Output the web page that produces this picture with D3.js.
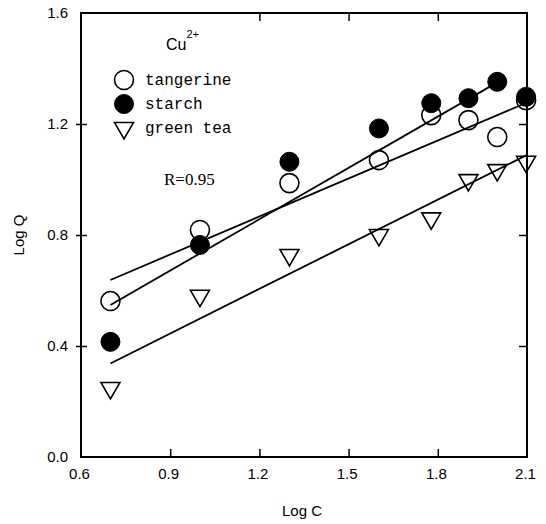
<!DOCTYPE html>
<html>
<head>
<meta charset="utf-8">
<script src="https://cdn.jsdelivr.net/npm/d3@7"></script>
<style>
  html, body { margin: 0; padding: 0; background: #fff; }
  svg { display: block; }
</style>
</head>
<body>
<svg id="chart" width="546" height="524"></svg>
<script>
// ---- data ----
const logC = [0.699, 1.0, 1.301, 1.602, 1.778, 1.903, 2.0, 2.097];
const tangerine = [0.562, 0.818, 0.987, 1.070, 1.232, 1.214, 1.153, 1.286];
const starch    = [0.415, 0.764, 1.064, 1.184, 1.275, 1.293, 1.352, 1.298];
const greenTea  = [0.249, 0.581, 0.728, 0.800, 0.860, 0.998, 1.034, 1.064];

// fitted line endpoints [x, y]
const fitTangerine = [[0.699, 0.638], [2.097, 1.276]];
const fitStarch    = [[0.699, 0.548], [2.0, 1.350]];
const fitGreenTea  = [[0.699, 0.337], [2.097, 1.087]];

const xTicks = [0.6, 0.9, 1.2, 1.5, 1.8, 2.1];
const yTicks = [0.0, 0.4, 0.8, 1.2, 1.6];
const topTicks = [1.2, 1.5, 1.8];
const rightTicks = [0.4, 0.8, 1.2];

const legendLabels = ["tangerine", "starch", "green tea"];
const legendMarkers = ["open", "filled", "triangle"];

// ---- layout ----
const svg = d3.select("#chart");
const X0 = 81, X1 = 527, Y0 = 457, Y1 = 13;
const x = d3.scaleLinear().domain([0.6, 2.1]).range([X0, X1]);
const y = d3.scaleLinear().domain([0, 1.6]).range([Y0, Y1]);

const sansFont = "'Liberation Sans', Arial, sans-serif";
const monoFont = "'Liberation Mono', 'DejaVu Sans Mono', monospace";
const serifFont = "'Liberation Serif', 'Times New Roman', serif";

// frame
svg.append("rect")
  .attr("x", X0).attr("y", Y1)
  .attr("width", X1 - X0).attr("height", Y0 - Y1)
  .attr("fill", "none").attr("stroke", "#000").attr("stroke-width", 2);

// bottom axis (ticks inside)
const bottomAxis = d3.axisBottom(x).tickValues(xTicks).tickSize(-8).tickPadding(14)
  .tickFormat(d3.format(".1f"));
const gb = svg.append("g").attr("transform", `translate(0,${Y0})`).call(bottomAxis);
gb.select(".domain").remove();
gb.selectAll(".tick line").attr("stroke", "#000").attr("stroke-width", 1.5)
  .filter(d => d === 0.6 || d === 2.1).remove();
gb.selectAll(".tick text").attr("font-family", sansFont).attr("font-size", 15)
  .attr("fill", "#000").attr("dy", "0.5em").attr("dx", -2);

// left axis (ticks crossing)
const leftAxis = d3.axisLeft(y).tickValues(yTicks).tickSize(5).tickPadding(8)
  .tickFormat(d3.format(".1f"));
const gl = svg.append("g").attr("transform", `translate(${X0},0)`).call(leftAxis);
gl.select(".domain").remove();
gl.selectAll(".tick line").attr("x2", -5).attr("x1", 6)
  .attr("stroke", "#000").attr("stroke-width", 1.5)
  .filter(d => d === 0 || d === 1.6).remove();
gl.selectAll(".tick text").attr("font-family", sansFont).attr("font-size", 15).attr("fill", "#000");

// top ticks
const gt = svg.append("g").attr("transform", `translate(0,${Y1})`)
  .call(d3.axisTop(x).tickValues(topTicks).tickSize(-8).tickFormat(""));
gt.select(".domain").remove();
gt.selectAll(".tick line").attr("stroke", "#000").attr("stroke-width", 1.5);

// right ticks
const gr = svg.append("g").attr("transform", `translate(${X1},0)`)
  .call(d3.axisRight(y).tickValues(rightTicks).tickSize(-8).tickFormat(""));
gr.select(".domain").remove();
gr.selectAll(".tick line").attr("stroke", "#000").attr("stroke-width", 1.5);

// axis titles
svg.append("text").attr("x", 302).attr("y", 516)
  .attr("text-anchor", "middle").attr("font-family", sansFont).attr("font-size", 15)
  .text("Log C");
svg.append("text").attr("transform", `translate(24,${(Y0 + Y1) / 2}) rotate(-90)`)
  .attr("text-anchor", "middle").attr("font-family", sansFont).attr("font-size", 15)
  .text("Log Q");

// fit lines
const line = d3.line().x(d => x(d[0])).y(d => y(d[1]));
[fitTangerine, fitStarch, fitGreenTea].forEach(f => {
  svg.append("path").attr("d", line(f)).attr("fill", "none")
    .attr("stroke", "#000").attr("stroke-width", 1.8);
});

// markers
const R = 9.5;
const triPath = d3.symbol().type(d3.symbolTriangle).size(155);
function drawMarker(g, type, cx, cy) {
  if (type === "open") {
    g.append("circle").attr("cx", cx).attr("cy", cy).attr("r", R)
      .attr("fill", "none").attr("stroke", "#000").attr("stroke-width", 1.6);
  } else if (type === "filled") {
    g.append("circle").attr("cx", cx).attr("cy", cy).attr("r", R)
      .attr("fill", "#000").attr("stroke", "#000").attr("stroke-width", 1);
  } else {
    g.append("path").attr("d", triPath())
      .attr("transform", `translate(${cx},${cy}) rotate(180)`)
      .attr("fill", "none").attr("stroke", "#000").attr("stroke-width", 1.6);
  }
}
const gp = svg.append("g");
logC.forEach((c, i) => drawMarker(gp, "open", x(c), y(tangerine[i])));
logC.forEach((c, i) => drawMarker(gp, "filled", x(c), y(starch[i])));
logC.forEach((c, i) => drawMarker(gp, "triangle", x(c), y(greenTea[i])));

// title Cu2+
const cu = svg.append("text").attr("x", 166).attr("y", 50)
  .attr("font-family", sansFont).attr("font-size", 16);
cu.append("tspan").text("Cu");
cu.append("tspan").attr("dy", -12).attr("font-size", 11).text("2+");

// legend
const lg = svg.append("g");
legendLabels.forEach((lab, i) => {
  const cy = 80 + i * 24;
  drawMarker(lg, legendMarkers[i], 124, cy);
  lg.append("text").attr("x", 145).attr("y", cy + 5)
    .attr("font-family", monoFont).attr("font-size", 16).text(lab);
});

// R value
svg.append("text").attr("x", 164).attr("y", 185)
  .attr("font-family", serifFont).attr("font-size", 17).text("R=0.95");
</script>
</body>
</html>
